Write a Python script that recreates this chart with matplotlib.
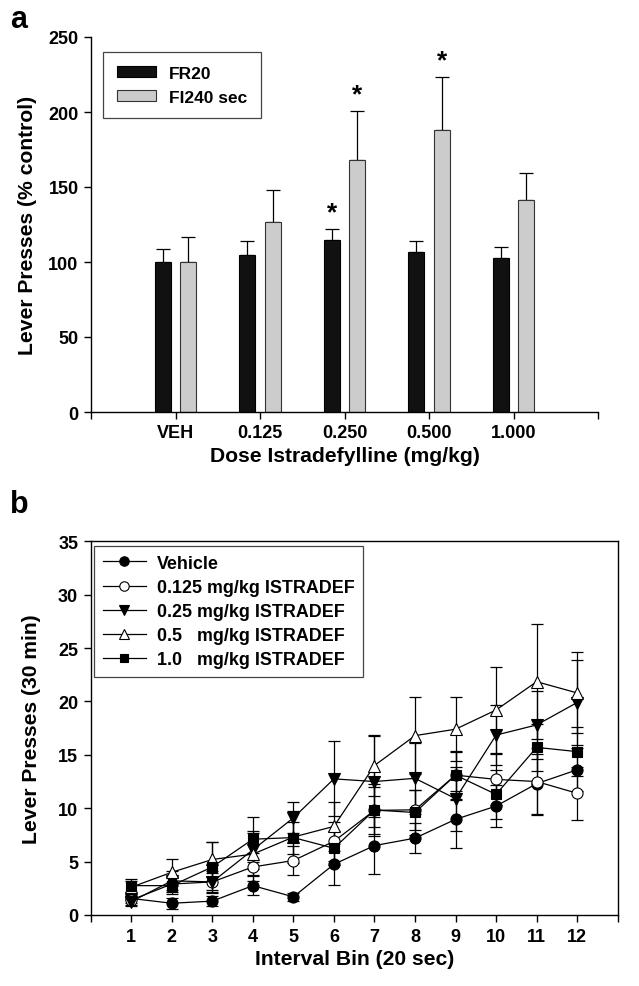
import matplotlib
matplotlib.use("Agg")
import matplotlib.pyplot as plt
import numpy as np

plt.rcParams['font.family'] = ['Liberation Sans', 'DejaVu Sans']
plt.rcParams['font.weight'] = 'bold'

# ---- Panel a data ----
doses = ["VEH", "0.125", "0.250", "0.500", "1.000"]
fr20 = [100, 104.7, 114.7, 107, 102.7]
fr20_err = [9, 9, 7.5, 7, 7.5]
fi240 = [100, 126.4, 167.8, 187.8, 141.3]
fi240_err = [16.5, 21.5, 33, 35.5, 18]
sig_fr20 = [False, False, True, False, False]
sig_fi240 = [False, False, True, True, False]

# ---- Panel b data ----
bins = list(range(1, 13))
vehicle = [1.55, 1.1, 1.3, 2.75, 1.7, 4.75, 6.5, 7.2, 8.96, 10.2, 12.3, 13.6]
vehicle_se = [0.4, 0.5, 0.5, 0.9, 0.4, 1.9, 2.7, 1.4, 2.7, 2.0, 2.8, 2.0]
d0125 = [1.4, 2.9, 3.1, 4.5, 5.1, 6.9, 9.8, 9.85, 13.1, 12.7, 12.5, 11.4]
d0125_se = [0.5, 0.7, 0.8, 1.3, 1.4, 1.8, 2.2, 1.9, 2.3, 2.4, 3.1, 2.5]
d025 = [1.25, 3.2, 3.1, 6.1, 9.1, 12.75, 12.5, 12.8, 10.9, 16.85, 17.8, 19.9]
d025_se = [0.4, 0.9, 1.0, 1.8, 1.45, 3.5, 4.3, 3.3, 3.0, 2.8, 3.2, 4.0]
d05 = [2.6, 4.0, 5.2, 5.7, 7.3, 8.3, 14.0, 16.8, 17.4, 19.2, 21.85, 20.8]
d05_se = [0.6, 1.25, 1.6, 2.0, 2.4, 2.3, 2.9, 3.6, 3.0, 4.0, 5.4, 3.8]
d10 = [2.75, 2.75, 4.5, 7.1, 7.25, 6.25, 9.83, 9.6, 13.1, 11.3, 15.7, 15.3]
d10_se = [0.6, 0.8, 2.3, 2.1, 1.5, 1.6, 2.4, 2.1, 2.2, 2.3, 2.2, 2.3]
series_labels = ["Vehicle", "0.125 mg/kg ISTRADEF", "0.25 mg/kg ISTRADEF",
                 "0.5   mg/kg ISTRADEF", "1.0   mg/kg ISTRADEF"]

W, H = 639, 987
fig = plt.figure(figsize=(W / 100, H / 100), dpi=100)

TICK = 13
LAB = 15.2

# ================= Panel a =================
axa = fig.add_axes([91 / W, 1 - 413 / H, (598 - 91) / W, 375 / H])
x = np.arange(len(doses))
bw = 0.19
off = 0.15
axa.bar(x - off, fr20, bw, color='#111111', edgecolor='black', linewidth=0.8,
        label='FR20', zorder=2)
axa.bar(x + off, fi240, bw, color='#cccccc', edgecolor='#333333', linewidth=0.8,
        label='FI240 sec', zorder=2)
axa.errorbar(x - off, fr20, yerr=[np.zeros(len(fr20)), fr20_err], fmt='none',
             ecolor='black', elinewidth=0.9, capsize=5, capthick=0.9, zorder=1)
axa.errorbar(x + off, fi240, yerr=[np.zeros(len(fi240)), fi240_err], fmt='none',
             ecolor='black', elinewidth=0.9, capsize=5, capthick=0.9, zorder=1)
for i in range(len(doses)):
    if sig_fr20[i]:
        axa.text(x[i] - off, fr20[i] + fr20_err[i] + 3, '*', ha='center', va='bottom',
                 fontsize=19, fontweight='bold')
    if sig_fi240[i]:
        axa.text(x[i] + off, fi240[i] + fi240_err[i] + 3, '*', ha='center', va='bottom',
                 fontsize=19, fontweight='bold')

axa.set_xlim(-1, 5)
axa.set_ylim(0, 250)
axa.set_yticks(np.arange(0, 251, 50))
axa.set_xticks([-1, 0, 1, 2, 3, 4, 5])
axa.set_xticklabels([''] + doses + [''])
axa.spines['top'].set_visible(False)
axa.spines['right'].set_visible(False)
for s in ['left', 'bottom']:
    axa.spines[s].set_linewidth(1.0)
axa.tick_params(direction='out', length=5, width=1, labelsize=TICK, pad=4)
axa.set_xlabel('Dose Istradefylline (mg/kg)', fontsize=LAB, fontweight='bold', labelpad=3)
axa.set_ylabel('Lever Presses (% control)', fontsize=LAB, fontweight='bold', labelpad=8)
lega = axa.legend(loc='upper left', bbox_to_anchor=(0.023, 0.96), fontsize=12.5,
                  frameon=True, fancybox=False, edgecolor='#444444', framealpha=1,
                  handlelength=2.3, handleheight=0.6, borderpad=0.8, labelspacing=0.5,
                  handletextpad=0.7, borderaxespad=0)
lega.get_frame().set_linewidth(0.9)
fig.text(10 / W, 1 - 20 / H, 'a', fontsize=22, fontweight='bold', va='center')

# ================= Panel b =================
axb = fig.add_axes([90.7 / W, 1 - 916 / H, 527 / W, 373.7 / H])
data = [(vehicle, vehicle_se, 'o', 'black', 8.0),
        (d0125, d0125_se, 'o', 'white', 8.0),
        (d025, d025_se, 'v', 'black', 8.5),
        (d05, d05_se, '^', 'white', 8.5),
        (d10, d10_se, 's', 'black', 7.2)]
handles = []
for (vals, se, mk, fc, ms), lab in zip(data, series_labels):
    axb.errorbar(bins, vals, yerr=se, fmt='none', ecolor='black', elinewidth=0.9,
                 capsize=4.2, capthick=0.9, zorder=2)
    h, = axb.plot(bins, vals, color='black', linewidth=0.9, marker=mk, markersize=ms,
                  markerfacecolor=fc, markeredgecolor='black', markeredgewidth=0.8,
                  zorder=3, label=lab)
    handles.append(h)

axb.set_xlim(0, 13)
axb.set_ylim(0, 35)
axb.set_xticks(range(0, 14))
axb.set_xticklabels([''] + [str(b) for b in bins] + [''])
axb.set_yticks(np.arange(0, 36, 5))
for s in axb.spines.values():
    s.set_linewidth(1.0)
axb.tick_params(direction='out', length=5, width=1, labelsize=TICK, pad=4)
axb.set_xlabel('Interval Bin (20 sec)', fontsize=LAB, fontweight='bold', labelpad=3)
axb.set_ylabel('Lever Presses (30 min)', fontsize=LAB, fontweight='bold', labelpad=12)
legb = axb.legend(handles=handles, loc='upper left', bbox_to_anchor=(0.006, 0.988),
                  fontsize=12.9, frameon=True, fancybox=False, edgecolor='#444444',
                  framealpha=1, handlelength=2.4, borderpad=0.5, labelspacing=0.4,
                  handletextpad=0.6, borderaxespad=0, markerscale=0.85)
legb.get_frame().set_linewidth(0.9)
fig.text(10 / W, 1 - 505 / H, 'b', fontsize=22, fontweight='bold', va='center')

fig.savefig('out.png', dpi=100)
